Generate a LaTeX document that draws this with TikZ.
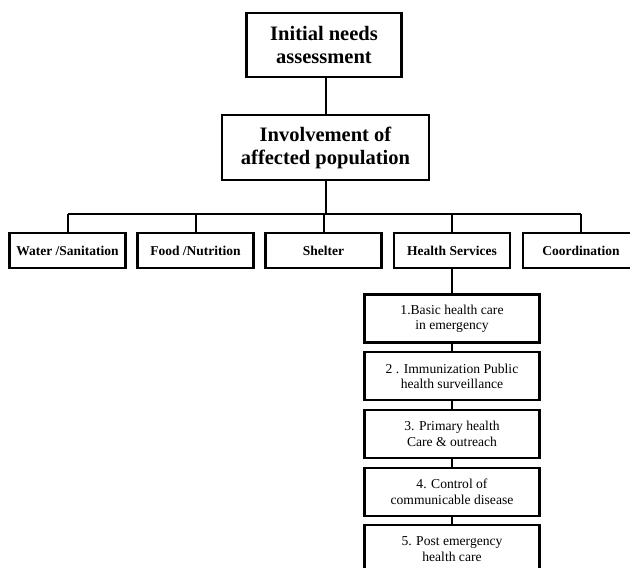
\documentclass[tikz,border=0pt]{standalone}
\usepackage{fontspec}
\setmainfont{Liberation Serif}
\usetikzlibrary{positioning}

\begin{document}
\begin{tikzpicture}[
    x=1pt, y=-1pt,
    node distance=7.5pt,
    headbox/.style={
        rectangle, draw, line width=2.2pt, align=center,
        font=\fontsize{20.5}{23}\selectfont\bfseries, inner sep=0pt
    },
    areabox/.style={
        rectangle, draw, line width=2.2pt, minimum width=116pt,
        minimum height=35pt, font=\fontsize{13.5}{15}\selectfont\bfseries,
        inner sep=0pt
    },
    carebox/.style={
        rectangle, draw, line width=2.2pt, minimum width=175pt,
        minimum height=48pt, align=center, inner sep=0pt,
        font=\fontsize{13.6}{15.5}\selectfont
    },
    link/.style={line width=2pt}
]
\useasboundingbox (0,0) rectangle (630,568);

\node[headbox, minimum width=155pt, minimum height=64pt] (needs) at (324,45)
    {Initial needs\\assessment};
\node[headbox, minimum width=207pt, minimum height=65pt] (involve) at (325.5,147.5)
    {Involvement of\\affected population};

% areas of response
\node[areabox] (water)   at (67.5,250.5)  {Water /Sanitation};
\node[areabox] (food)    at (195.5,250.5) {Food /Nutrition};
\node[areabox] (shelter) at (323.5,250.5) {Shelter};
\node[areabox] (health)  at (452,250.5)   {Health Services};
\node[areabox] (coord)   at (581,250.5)   {Coordination};

% health services chain
\node[carebox] (hs1) at (452,318.5) {1.Basic health care\\in emergency};
\node[carebox, below=of hs1] (hs2) {2 . Immunization Public\\health surveillance};
\node[carebox, below=of hs2] (hs3) {3. Primary health\\Care \& outreach};
\node[carebox, below=of hs3] (hs4) {4. Control of\\communicable disease};
\node[carebox, below=of hs4] (hs5) {5. Post emergency\\health care};

\coordinate (bar) at (0,214);

\draw[link] (involve.north) -- (involve.north |- needs.south);
\draw[link] (involve.south) -- (involve.south |- bar);
\draw[link] (water.north |- bar) -- (coord.north |- bar);
\foreach \n in {water,food,shelter,health,coord}
    \draw[link] (\n.north) -- (\n.north |- bar);

\draw[link] (health) -- (hs1);
\draw[link] (hs1) -- (hs2);
\draw[link] (hs2) -- (hs3);
\draw[link] (hs3) -- (hs4);
\draw[link] (hs4) -- (hs5);
\end{tikzpicture}
\end{document}
